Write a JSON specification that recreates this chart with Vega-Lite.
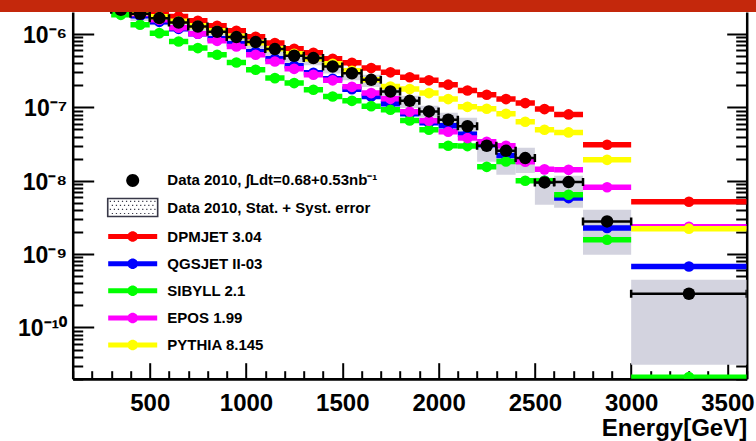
{
  "$schema": "https://vega.github.io/schema/vega-lite/v6.json",
  "width": 674,
  "height": 366.7,
  "autosize": {"type": "none"},
  "padding": {"left": 72.7, "top": 12, "right": 9.3, "bottom": 62.3},
  "background": "white",
  "config": {
    "view": {"stroke": null},
    "axis": {
      "grid": false, "domainColor": "#000000", "domainWidth": 2.5,
      "tickColor": "#000000", "tickWidth": 2,
      "labelFont": "Liberation Sans", "labelFontWeight": "bold", "labelColor": "#000000",
      "titleFont": "Liberation Sans", "titleFontWeight": "bold", "titleColor": "#000000",
      "labelOverlap": false, "labelFlush": false
    }
  },
  "data": {"values": [
    {"E":350,"lo":300,"hi":400,"d":2.14e-6,"dlo":1.71e-6,"dhi":2.5e-6,"dpm":2.59e-6,"qgs":2.14e-6,"sib":1.83e-6,"epos":2.28e-6,"pyt":2.21e-6},
    {"E":450,"lo":400,"hi":500,"d":1.89e-6,"dlo":1.51e-6,"dhi":2.21e-6,"dpm":2.28e-6,"qgs":1.78e-6,"sib":1.34e-6,"epos":1.89e-6,"pyt":1.95e-6},
    {"E":550,"lo":500,"hi":600,"d":1.65e-6,"dlo":1.32e-6,"dhi":1.93e-6,"dpm":2.01e-6,"qgs":1.47e-6,"sib":1.03e-6,"epos":1.57e-6,"pyt":1.72e-6},
    {"E":650,"lo":600,"hi":700,"d":1.44e-6,"dlo":1.15e-6,"dhi":1.68e-6,"dpm":1.74e-6,"qgs":1.18e-6,"sib":7.93e-7,"epos":1.22e-6,"pyt":1.495e-6},
    {"E":750,"lo":700,"hi":800,"d":1.27e-6,"dlo":1.02e-6,"dhi":1.49e-6,"dpm":1.52e-6,"qgs":1.01e-6,"sib":6.45e-7,"epos":1.01e-6,"pyt":1.30e-6},
    {"E":850,"lo":800,"hi":900,"d":1.075e-6,"dlo":8.6e-7,"dhi":1.26e-6,"dpm":1.30e-6,"qgs":8.63e-7,"sib":5.22e-7,"epos":8.10e-7,"pyt":1.11e-6},
    {"E":950,"lo":900,"hi":1000,"d":9.1e-7,"dlo":7.28e-7,"dhi":1.06e-6,"dpm":1.11e-6,"qgs":7.38e-7,"sib":4.10e-7,"epos":6.78e-7,"pyt":9.33e-7},
    {"E":1050,"lo":1000,"hi":1100,"d":7.78e-7,"dlo":6.22e-7,"dhi":9.1e-7,"dpm":9.19e-7,"qgs":5.74e-7,"sib":3.26e-7,"epos":5.22e-7,"pyt":7.61e-7},
    {"E":1150,"lo":1100,"hi":1200,"d":6.25e-7,"dlo":5.0e-7,"dhi":7.31e-7,"dpm":7.54e-7,"qgs":4.61e-7,"sib":2.51e-7,"epos":4.23e-7,"pyt":6.30e-7},
    {"E":1250,"lo":1200,"hi":1300,"d":5.06e-7,"dlo":4.05e-7,"dhi":5.92e-7,"dpm":6.30e-7,"qgs":3.70e-7,"sib":2.15e-7,"epos":3.36e-7,"pyt":5.39e-7},
    {"E":1350,"lo":1300,"hi":1400,"d":4.71e-7,"dlo":3.77e-7,"dhi":5.51e-7,"dpm":5.56e-7,"qgs":2.97e-7,"sib":1.74e-7,"epos":2.79e-7,"pyt":4.61e-7},
    {"E":1450,"lo":1400,"hi":1500,"d":3.61e-7,"dlo":2.89e-7,"dhi":4.22e-7,"dpm":4.61e-7,"qgs":2.46e-7,"sib":1.41e-7,"epos":2.34e-7,"pyt":3.94e-7},
    {"E":1550,"lo":1500,"hi":1600,"d":2.92e-7,"dlo":2.34e-7,"dhi":3.42e-7,"dpm":4.06e-7,"qgs":1.77e-7,"sib":1.23e-7,"epos":1.91e-7,"pyt":3.16e-7},
    {"E":1650,"lo":1600,"hi":1700,"d":2.38e-7,"dlo":1.9e-7,"dhi":2.78e-7,"dpm":3.44e-7,"qgs":1.41e-7,"sib":1.04e-7,"epos":1.57e-7,"pyt":2.38e-7},
    {"E":1750,"lo":1700,"hi":1800,"d":1.65e-7,"dlo":1.32e-7,"dhi":1.93e-7,"dpm":3.01e-7,"qgs":1.12e-7,"sib":9.29e-8,"epos":1.31e-7,"pyt":1.93e-7},
    {"E":1850,"lo":1800,"hi":1900,"d":1.23e-7,"dlo":9.84e-8,"dhi":1.44e-7,"dpm":2.58e-7,"qgs":8.19e-8,"sib":6.64e-8,"epos":8.72e-8,"pyt":1.78e-7},
    {"E":1950,"lo":1900,"hi":2000,"d":8.81e-8,"dlo":7.22e-8,"dhi":1.053e-7,"dpm":2.34e-7,"qgs":6.18e-8,"sib":4.96e-8,"epos":6.58e-8,"pyt":1.57e-7},
    {"E":2050,"lo":2000,"hi":2100,"d":6.79e-8,"dlo":5.28e-8,"dhi":8.45e-8,"dpm":2.04e-7,"qgs":5.62e-8,"sib":3.00e-8,"epos":4.66e-8,"pyt":1.30e-7},
    {"E":2150,"lo":2100,"hi":2200,"d":5.54e-8,"dlo":4.51e-8,"dhi":7.22e-8,"dpm":1.70e-7,"qgs":4.31e-8,"sib":2.97e-8,"epos":3.82e-8,"pyt":1.02e-7},
    {"E":2250,"lo":2200,"hi":2300,"d":3.0e-8,"dlo":1.82e-8,"dhi":3.62e-8,"dpm":1.49e-7,"qgs":3.10e-8,"sib":1.55e-8,"epos":3.40e-8,"pyt":9.58e-8},
    {"E":2350,"lo":2300,"hi":2400,"d":2.56e-8,"dlo":1.21e-8,"dhi":2.94e-8,"dpm":1.30e-7,"qgs":2.21e-8,"sib":1.83e-8,"epos":3.00e-8,"pyt":8.19e-8},
    {"E":2450,"lo":2400,"hi":2500,"d":2.04e-8,"dlo":1.28e-8,"dhi":2.82e-8,"dpm":1.146e-7,"qgs":1.87e-8,"sib":1.0e-8,"epos":1.82e-8,"pyt":6.37e-8},
    {"E":2550,"lo":2500,"hi":2600,"d":9.48e-9,"dlo":4.71e-9,"dhi":1.1e-8,"dpm":9.5e-8,"qgs":1.0e-8,"sib":1.0e-8,"epos":1.43e-8,"pyt":4.96e-8},
    {"E":2675,"lo":2600,"hi":2750,"d":9.6e-9,"dlo":4.28e-9,"dhi":1.17e-8,"dpm":8.02e-8,"qgs":5.81e-9,"sib":6.45e-9,"epos":1.41e-8,"pyt":4.56e-8},
    {"E":2875,"lo":2750,"hi":3000,"d":2.79e-9,"dlo":9.8e-10,"dhi":4.02e-9,"dpm":3.10e-8,"qgs":2.27e-9,"sib":1.57e-9,"epos":8.15e-9,"pyt":1.93e-8},
    {"E":3300,"lo":3000,"hi":3600,"d":2.88e-10,"dlo":3.1e-11,"dhi":4.47e-10,"dpm":5.17e-9,"qgs":6.78e-10,"sib":2.1e-11,"epos":2.36e-9,"pyt":2.22e-9}
  ]},
  "resolve": {"axis": {"y": "independent", "x": "independent"}},
  "layer": [
    {
      "mark": {"type": "rect", "fill": "#d3d3df", "clip": true},
      "encoding": {
        "x": {"field": "lo", "type": "quantitative", "title": "Energy[GeV]",
          "scale": {"domain": [100, 3600], "nice": false, "zero": false},
          "axis": {
            "orient": "bottom",
            "values": [500, 1000, 1500, 2000, 2500, 3000, 3500],
            "format": "d", "labelOverlap": false,
            "tickSize": -16,
            "labelFontSize": 24, "labelPadding": 28.3,
            "titleFontSize": 24, "titleAnchor": "end", "titlePadding": 1
          }
        },
        "x2": {"field": "hi"},
        "y": {"field": "dlo", "type": "quantitative",
          "scale": {"type": "log", "domain": [2e-11, 2e-6], "nice": false},
          "axis": {
            "orient": "left", "title": null, "labelOverlap": false,
            "values": [2e-11,3e-11,4e-11,5e-11,6e-11,7e-11,8e-11,9e-11,1e-10,2e-10,3e-10,4e-10,5e-10,6e-10,7e-10,8e-10,9e-10,1e-9,2e-9,3e-9,4e-9,5e-9,6e-9,7e-9,8e-9,9e-9,1e-8,2e-8,3e-8,4e-8,5e-8,6e-8,7e-8,8e-8,9e-8,1e-7,2e-7,3e-7,4e-7,5e-7,6e-7,7e-7,8e-7,9e-7,1e-6],
            "labelExpr": "abs(log(datum.value)/LN10 - round(log(datum.value)/LN10)) > 0.001 ? '' : round(log(datum.value)/LN10) == -6 ? '10⁻⁶' : round(log(datum.value)/LN10) == -7 ? '10⁻⁷' : round(log(datum.value)/LN10) == -8 ? '10⁻⁸' : round(log(datum.value)/LN10) == -9 ? '10⁻⁹' : '10⁻¹⁰'",
            "tickSize": {"condition": {"test": "abs(log(datum.value)/LN10 - round(log(datum.value)/LN10)) < 0.001", "value": -21}, "value": -10},
            "labelFontSize": 23, "labelPadding": 27, "labelOffset": 1.5, "labelBaseline": "middle"
          }
        },
        "y2": {"field": "dhi"}
      }
    },
    {"mark": {"type": "rule", "strokeWidth": 5.5, "clip": true},
     "encoding": {
       "x": {"field": "lo", "type": "quantitative",
         "axis": {
           "orient": "bottom", "title": null, "labels": false,
           "values": [100,200,300,400,600,700,800,900,1100,1200,1300,1400,1600,1700,1800,1900,2100,2200,2300,2400,2600,2700,2800,2900,3100,3200,3300,3400,3600],
           "tickSize": -8
         }
       },
       "x2": {"field": "hi"},
       "y": {"field": "dpm", "type": "quantitative", "axis": null},
       "color": {
          "datum": "DPMJET 3.04",
          "scale": {
            "domain": ["Data 2010, ∫Ldt=0.68+0.53nb⁻¹", "Data 2010, Stat. + Syst. error", "DPMJET 3.04", "QGSJET II-03", "SIBYLL 2.1", "EPOS 1.99", "PYTHIA 8.145"],
            "range": ["#000000", "#383848", "#ff0000", "#0000ff", "#00ff00", "#ff00ff", "#ffff00"]
          },
          "legend": {
            "orient": "none", "legendX": 46.5, "legendY": 154.9,
            "title": null, "padding": 0, "symbolSize": 729, "symbolStrokeWidth": 0,
            "labelFont": "Liberation Sans", "labelFontSize": 15, "labelFontWeight": "bold", "labelColor": "#000000",
            "labelOffset": 21.1, "rowPadding": 5.1, "labelLimit": 400,
            "encode": {"symbols": {"update": {
              "shape": {"signal": "datum.value === 'Data 2010, ∫Ldt=0.68+0.53nb⁻¹' ? 'M-0.48,0A0.48,0.48 0 1,1 0.48,0A0.48,0.48 0 1,1 -0.48,0Z' : datum.value === 'Data 2010, Stat. + Syst. error' ? 'M-1.91,-0.73H1.91V0.73H-1.91Z M-1.79,-0.61V0.61H1.79V-0.61Z M-1.7,-0.5h0.09v0.09h-0.09Z M-1.4,-0.5h0.09v0.09h-0.09Z M-1.1,-0.5h0.09v0.09h-0.09Z M-0.8,-0.5h0.09v0.09h-0.09Z M-0.5,-0.5h0.09v0.09h-0.09Z M-0.2,-0.5h0.09v0.09h-0.09Z M0.1,-0.5h0.09v0.09h-0.09Z M0.4,-0.5h0.09v0.09h-0.09Z M0.7,-0.5h0.09v0.09h-0.09Z M1.0,-0.5h0.09v0.09h-0.09Z M1.3,-0.5h0.09v0.09h-0.09Z M1.6,-0.5h0.09v0.09h-0.09Z M-1.55,-0.2h0.09v0.09h-0.09Z M-1.25,-0.2h0.09v0.09h-0.09Z M-0.95,-0.2h0.09v0.09h-0.09Z M-0.65,-0.2h0.09v0.09h-0.09Z M-0.35,-0.2h0.09v0.09h-0.09Z M-0.05,-0.2h0.09v0.09h-0.09Z M0.25,-0.2h0.09v0.09h-0.09Z M0.55,-0.2h0.09v0.09h-0.09Z M0.85,-0.2h0.09v0.09h-0.09Z M1.15,-0.2h0.09v0.09h-0.09Z M1.45,-0.2h0.09v0.09h-0.09Z M-1.7,0.1h0.09v0.09h-0.09Z M-1.4,0.1h0.09v0.09h-0.09Z M-1.1,0.1h0.09v0.09h-0.09Z M-0.8,0.1h0.09v0.09h-0.09Z M-0.5,0.1h0.09v0.09h-0.09Z M-0.2,0.1h0.09v0.09h-0.09Z M0.1,0.1h0.09v0.09h-0.09Z M0.4,0.1h0.09v0.09h-0.09Z M0.7,0.1h0.09v0.09h-0.09Z M1.0,0.1h0.09v0.09h-0.09Z M1.3,0.1h0.09v0.09h-0.09Z M1.6,0.1h0.09v0.09h-0.09Z M-1.55,0.4h0.09v0.09h-0.09Z M-1.25,0.4h0.09v0.09h-0.09Z M-0.95,0.4h0.09v0.09h-0.09Z M-0.65,0.4h0.09v0.09h-0.09Z M-0.35,0.4h0.09v0.09h-0.09Z M-0.05,0.4h0.09v0.09h-0.09Z M0.25,0.4h0.09v0.09h-0.09Z M0.55,0.4h0.09v0.09h-0.09Z M0.85,0.4h0.09v0.09h-0.09Z M1.15,0.4h0.09v0.09h-0.09Z M1.45,0.4h0.09v0.09h-0.09Z' : 'M-1.815,-0.185H1.815V0.185H-1.815Z M-0.39,0A0.39,0.39 0 1,1 0.39,0A0.39,0.39 0 1,1 -0.39,0Z'"},
              "fill": {"scale": "color", "field": "value"},
              "strokeWidth": {"value": 0},
              "opacity": {"value": 1}
            }}}
          }
       }
     }},
    {"mark": {"type": "point", "filled": true, "size": 114, "opacity": 1, "clip": true},
     "encoding": {"x": {"field": "E", "type": "quantitative", "axis": null}, "y": {"field": "dpm", "type": "quantitative", "axis": null}, "color": {"datum": "DPMJET 3.04"}}},
    {"mark": {"type": "rule", "strokeWidth": 5.5, "clip": true},
     "encoding": {"x": {"field": "lo", "type": "quantitative", "axis": null}, "x2": {"field": "hi"}, "y": {"field": "qgs", "type": "quantitative", "axis": null}, "color": {"datum": "QGSJET II-03"}}},
    {"mark": {"type": "point", "filled": true, "size": 114, "opacity": 1, "clip": true},
     "encoding": {"x": {"field": "E", "type": "quantitative", "axis": null}, "y": {"field": "qgs", "type": "quantitative", "axis": null}, "color": {"datum": "QGSJET II-03"}}},
    {"mark": {"type": "rule", "strokeWidth": 5.5, "clip": true},
     "encoding": {"x": {"field": "lo", "type": "quantitative", "axis": null}, "x2": {"field": "hi"}, "y": {"field": "sib", "type": "quantitative", "axis": null}, "color": {"datum": "SIBYLL 2.1"}}},
    {"mark": {"type": "point", "filled": true, "size": 114, "opacity": 1, "clip": true},
     "encoding": {"x": {"field": "E", "type": "quantitative", "axis": null}, "y": {"field": "sib", "type": "quantitative", "axis": null}, "color": {"datum": "SIBYLL 2.1"}}},
    {"mark": {"type": "rule", "strokeWidth": 5.5, "clip": true},
     "encoding": {"x": {"field": "lo", "type": "quantitative", "axis": null}, "x2": {"field": "hi"}, "y": {"field": "epos", "type": "quantitative", "axis": null}, "color": {"datum": "EPOS 1.99"}}},
    {"mark": {"type": "point", "filled": true, "size": 114, "opacity": 1, "clip": true},
     "encoding": {"x": {"field": "E", "type": "quantitative", "axis": null}, "y": {"field": "epos", "type": "quantitative", "axis": null}, "color": {"datum": "EPOS 1.99"}}},
    {"mark": {"type": "rule", "strokeWidth": 5.5, "clip": true},
     "encoding": {"x": {"field": "lo", "type": "quantitative", "axis": null}, "x2": {"field": "hi"}, "y": {"field": "pyt", "type": "quantitative", "axis": null}, "color": {"datum": "PYTHIA 8.145"}}},
    {"mark": {"type": "point", "filled": true, "size": 114, "opacity": 1, "clip": true},
     "encoding": {"x": {"field": "E", "type": "quantitative", "axis": null}, "y": {"field": "pyt", "type": "quantitative", "axis": null}, "color": {"datum": "PYTHIA 8.145"}}},
    {"mark": {"type": "rule", "strokeWidth": 2.5, "clip": true},
     "encoding": {"x": {"field": "lo", "type": "quantitative", "axis": null}, "x2": {"field": "hi"}, "y": {"field": "d", "type": "quantitative", "axis": null}, "color": {"datum": "Data 2010, ∫Ldt=0.68+0.53nb⁻¹"}}},
    {"mark": {"type": "tick", "orient": "vertical", "size": 8, "thickness": 2.5, "opacity": 1, "clip": true},
     "encoding": {"x": {"field": "lo", "type": "quantitative", "axis": null}, "y": {"field": "d", "type": "quantitative", "axis": null}, "color": {"datum": "Data 2010, ∫Ldt=0.68+0.53nb⁻¹"}}},
    {"mark": {"type": "tick", "orient": "vertical", "size": 8, "thickness": 2.5, "opacity": 1, "clip": true},
     "encoding": {"x": {"field": "hi", "type": "quantitative", "axis": null}, "y": {"field": "d", "type": "quantitative", "axis": null}, "color": {"datum": "Data 2010, ∫Ldt=0.68+0.53nb⁻¹"}}},
    {"mark": {"type": "point", "filled": true, "size": 156, "opacity": 1, "clip": true},
     "encoding": {"x": {"field": "E", "type": "quantitative", "axis": null},
       "y": {"field": "d", "type": "quantitative",
         "axis": {
           "orient": "right", "title": null, "labels": false,
           "values": [2e-11,3e-11,4e-11,5e-11,6e-11,7e-11,8e-11,9e-11,1e-10,2e-10,3e-10,4e-10,5e-10,6e-10,7e-10,8e-10,9e-10,1e-9,2e-9,3e-9,4e-9,5e-9,6e-9,7e-9,8e-9,9e-9,1e-8,2e-8,3e-8,4e-8,5e-8,6e-8,7e-8,8e-8,9e-8,1e-7,2e-7,3e-7,4e-7,5e-7,6e-7,7e-7,8e-7,9e-7,1e-6],
           "tickSize": {"condition": {"test": "abs(log(datum.value)/LN10 - round(log(datum.value)/LN10)) < 0.001", "value": -20}, "value": -11}
         }
       },
       "color": {"datum": "Data 2010, ∫Ldt=0.68+0.53nb⁻¹"}}},
    {"mark": {"type": "rect", "color": "#c4280c"},
     "encoding": {
       "x": {"datum": -400, "type": "quantitative", "axis": null},
       "x2": {"datum": 3800},
       "y": {"datum": 2e-6, "type": "quantitative", "axis": null},
       "y2": {"datum": 1e-4}
     }}
  ]
}
